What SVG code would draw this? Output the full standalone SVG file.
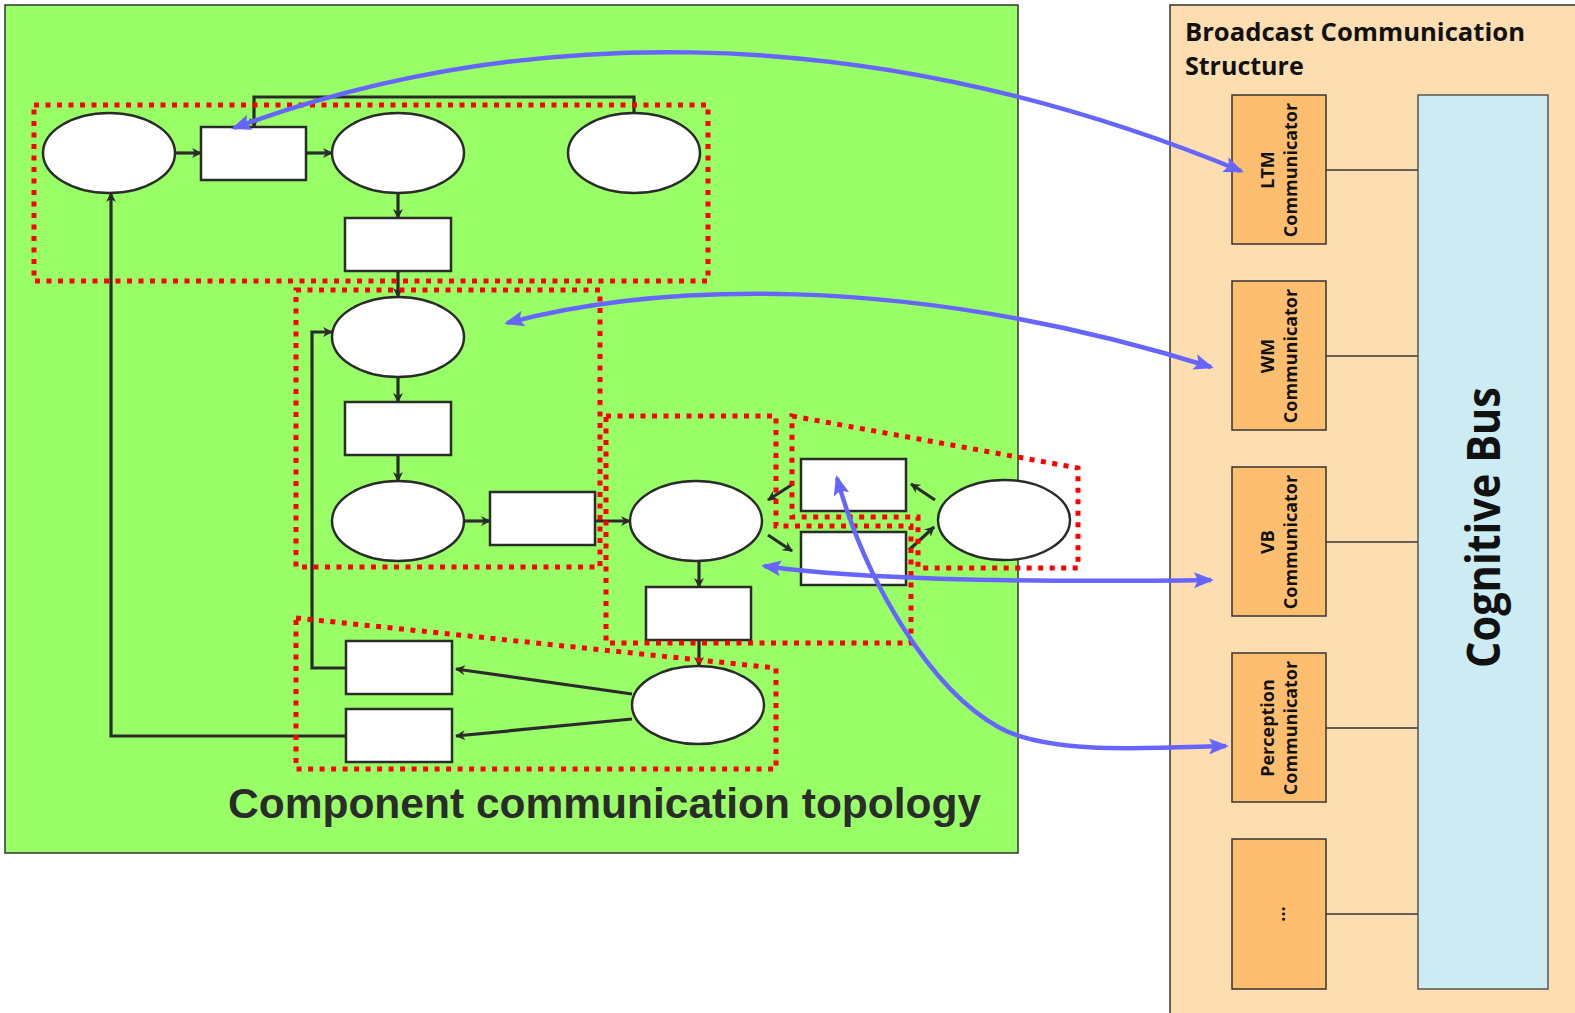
<svg xmlns="http://www.w3.org/2000/svg" width="1575" height="1013" viewBox="0 0 1575 1013">
  <style>
    .panel-green { fill: #99FF66; stroke: #333333; stroke-width: 1.5; }
    .panel-peach { fill: #FDDEB0; stroke: #333333; stroke-width: 1.5; }
    .node { fill: #FFFFFF; stroke: #2B2B2B; stroke-width: 2.5; }
    .link { fill: none; stroke: #2B2B2B; stroke-width: 3.2; marker-end: url(#dark-head); }
    .group { fill: none; stroke: #FF0000; stroke-width: 5; stroke-dasharray: 5 6.5; }
    .comm { fill: #FDBF6F; stroke: #333333; stroke-width: 1.5; }
    .bus { fill: #CCEBF3; stroke: #555555; stroke-width: 1.5; }
    .tie { stroke: #333333; stroke-width: 1.5; }
    .bcast { fill: none; stroke: #6666FF; stroke-width: 4.5; marker-start: url(#blue-head); marker-end: url(#blue-head); }
    .label { font-family: "Open Sans", "Noto Sans", "DejaVu Sans", sans-serif; font-weight: 700; fill: #111111; }
    .title { font-family: "Liberation Sans", Arial, sans-serif; font-weight: 700; fill: #2B2B2B; }
  </style>
  <defs>
    <marker id="dark-head" viewBox="0 0 10 10" refX="9" refY="5" markerWidth="10" markerHeight="10" markerUnits="userSpaceOnUse" orient="auto">
      <path d="M0,0 L10,5 L0,10 L3,5 z" fill="#2B2B2B"/>
    </marker>
    <marker id="blue-head" viewBox="0 0 20 16" refX="17" refY="8" markerWidth="20" markerHeight="16" markerUnits="userSpaceOnUse" orient="auto-start-reverse">
      <path d="M0,0 L20,8 L0,16 L4,8 z" fill="#6666FF"/>
    </marker>
  </defs>

  <!-- left panel: component topology -->
  <rect id="topology-panel" class="panel-green" x="5" y="5" width="1013" height="848"/>

  <!-- right panel: broadcast structure -->
  <g id="broadcast-panel">
    <rect class="panel-peach" x="1170" y="5" width="420" height="1030"/>
    <text class="label" font-size="25" x="1185" y="41" textLength="340" lengthAdjust="spacingAndGlyphs">Broadcast Communication</text>
    <text class="label" font-size="25" x="1185" y="75">Structure</text>
  </g>

  <!-- bus ties -->
  <g id="bus-ties">
    <line class="tie" x1="1326" y1="170" x2="1418" y2="170"/>
    <line class="tie" x1="1326" y1="356" x2="1418" y2="356"/>
    <line class="tie" x1="1326" y1="542" x2="1418" y2="542"/>
    <line class="tie" x1="1326" y1="728" x2="1418" y2="728"/>
    <line class="tie" x1="1326" y1="914" x2="1418" y2="914"/>
  </g>

  <g id="cognitive-bus">
    <rect class="bus" x="1418" y="95" width="130" height="894"/>
    <g transform="translate(1500,527.5) rotate(-90)">
      <text class="label" font-size="46" x="0" y="0" text-anchor="middle" textLength="281" lengthAdjust="spacingAndGlyphs">Cognitive Bus</text>
    </g>
  </g>

  <g id="ltm-communicator">
    <rect class="comm" x="1232" y="95" width="94" height="149"/>
    <g transform="translate(1279,170) rotate(-90)">
      <text class="label" font-size="18" text-anchor="middle"><tspan x="0" y="-5">LTM</tspan><tspan x="0" y="18">Communicator</tspan></text>
    </g>
  </g>
  <g id="wm-communicator">
    <rect class="comm" x="1232" y="281" width="94" height="149"/>
    <g transform="translate(1279,356) rotate(-90)">
      <text class="label" font-size="18" text-anchor="middle"><tspan x="0" y="-5">WM</tspan><tspan x="0" y="18">Communicator</tspan></text>
    </g>
  </g>
  <g id="vb-communicator">
    <rect class="comm" x="1232" y="467" width="94" height="149"/>
    <g transform="translate(1279,542) rotate(-90)">
      <text class="label" font-size="18" text-anchor="middle"><tspan x="0" y="-5">VB</tspan><tspan x="0" y="18">Communicator</tspan></text>
    </g>
  </g>
  <g id="perception-communicator">
    <rect class="comm" x="1232" y="653" width="94" height="149"/>
    <g transform="translate(1279,728) rotate(-90)">
      <text class="label" font-size="18" text-anchor="middle"><tspan x="0" y="-5">Perception</tspan><tspan x="0" y="18">Communicator</tspan></text>
    </g>
  </g>
  <g id="more-communicators">
    <rect class="comm" x="1232" y="839" width="94" height="150"/>
    <g transform="translate(1279,914) rotate(-90)">
      <text class="label" font-size="18" x="0" y="5.5" text-anchor="middle">...</text>
    </g>
  </g>

  <!-- component nodes -->
  <g id="e1"><ellipse class="node" cx="109" cy="153" rx="66" ry="40"/></g>
  <g id="e2"><ellipse class="node" cx="398" cy="153" rx="66" ry="40"/></g>
  <g id="e3"><ellipse class="node" cx="634" cy="153" rx="66" ry="40"/></g>
  <g id="e4"><ellipse class="node" cx="398" cy="337" rx="66" ry="40"/></g>
  <g id="e5"><ellipse class="node" cx="398" cy="521" rx="66" ry="40"/></g>
  <g id="e6"><ellipse class="node" cx="696" cy="521" rx="66" ry="40"/></g>
  <g id="e7"><ellipse class="node" cx="1004" cy="520" rx="66" ry="40"/></g>
  <g id="e8"><ellipse class="node" cx="698" cy="705" rx="66" ry="39"/></g>

  <g id="r1"><rect class="node" x="201" y="127" width="105" height="53"/></g>
  <g id="r2"><rect class="node" x="345" y="218" width="106" height="53"/></g>
  <g id="r3"><rect class="node" x="345" y="402" width="106" height="53"/></g>
  <g id="r4"><rect class="node" x="490" y="492" width="105" height="53"/></g>
  <g id="r5"><rect class="node" x="646" y="587" width="105" height="53"/></g>
  <g id="r6"><rect class="node" x="801" y="459" width="105" height="52"/></g>
  <g id="r7"><rect class="node" x="801" y="532" width="105" height="53"/></g>
  <g id="r8"><rect class="node" x="346" y="641" width="106" height="53"/></g>
  <g id="r9"><rect class="node" x="346" y="709" width="106" height="53"/></g>

  <!-- local data-flow links -->
  <g id="connectors">
    <path class="link" d="M175,153 H201"/>
    <path class="link" d="M306,153 H332"/>
    <path class="link" d="M398,193 V218"/>
    <path class="link" d="M398,271 V297"/>
    <path class="link" d="M398,377 V402"/>
    <path class="link" d="M398,455 V481"/>
    <path class="link" d="M464,521 H490"/>
    <path class="link" d="M595,521 H630"/>
    <path class="link" d="M699,561 V587"/>
    <path class="link" d="M699,640 V666"/>
    <path class="link" d="M793,484 L768,500"/>
    <path class="link" d="M768,535 L792,551"/>
    <path class="link" d="M935,500 L911,484"/>
    <path class="link" d="M909,550 L934,527"/>
    <path class="link" d="M632,694 L456,669"/>
    <path class="link" d="M632,719 L456,736"/>
    <path class="link" d="M634,113 V97 H254 V127"/>
    <path class="link" d="M346,668 H312 V332 H332"/>
    <path class="link" d="M346,736 H111 V193"/>
  </g>

  <!-- dotted component groupings -->
  <g id="groupings">
    <rect class="group" x="34" y="105" width="674" height="176"/>
    <rect class="group" x="296" y="290" width="304" height="277"/>
    <polygon class="group" points="606,416 776,416 776,526 911,526 911,643 606,643"/>
    <polygon class="group" points="792,416 1078,468 1078,568 918,568 918,517 792,517"/>
    <polygon class="group" points="296,618 776,668 776,769 296,769"/>
  </g>

  <text class="title" font-size="42.5" x="228" y="818">Component communication topology</text>

  <!-- broadcast links between components and communicators -->
  <g id="broadcast-links">
    <path class="bcast" d="M234,128 C500,30 850,10 1241,171"/>
    <path class="bcast" d="M507,323 C650,285 900,270 1211,367"/>
    <path class="bcast" d="M764,566 C850,578 1000,583 1211,580"/>
    <path class="bcast" d="M837,478 C865,580 930,690 1000,728 C1050,755 1150,748 1226,746"/>
  </g>
</svg>
